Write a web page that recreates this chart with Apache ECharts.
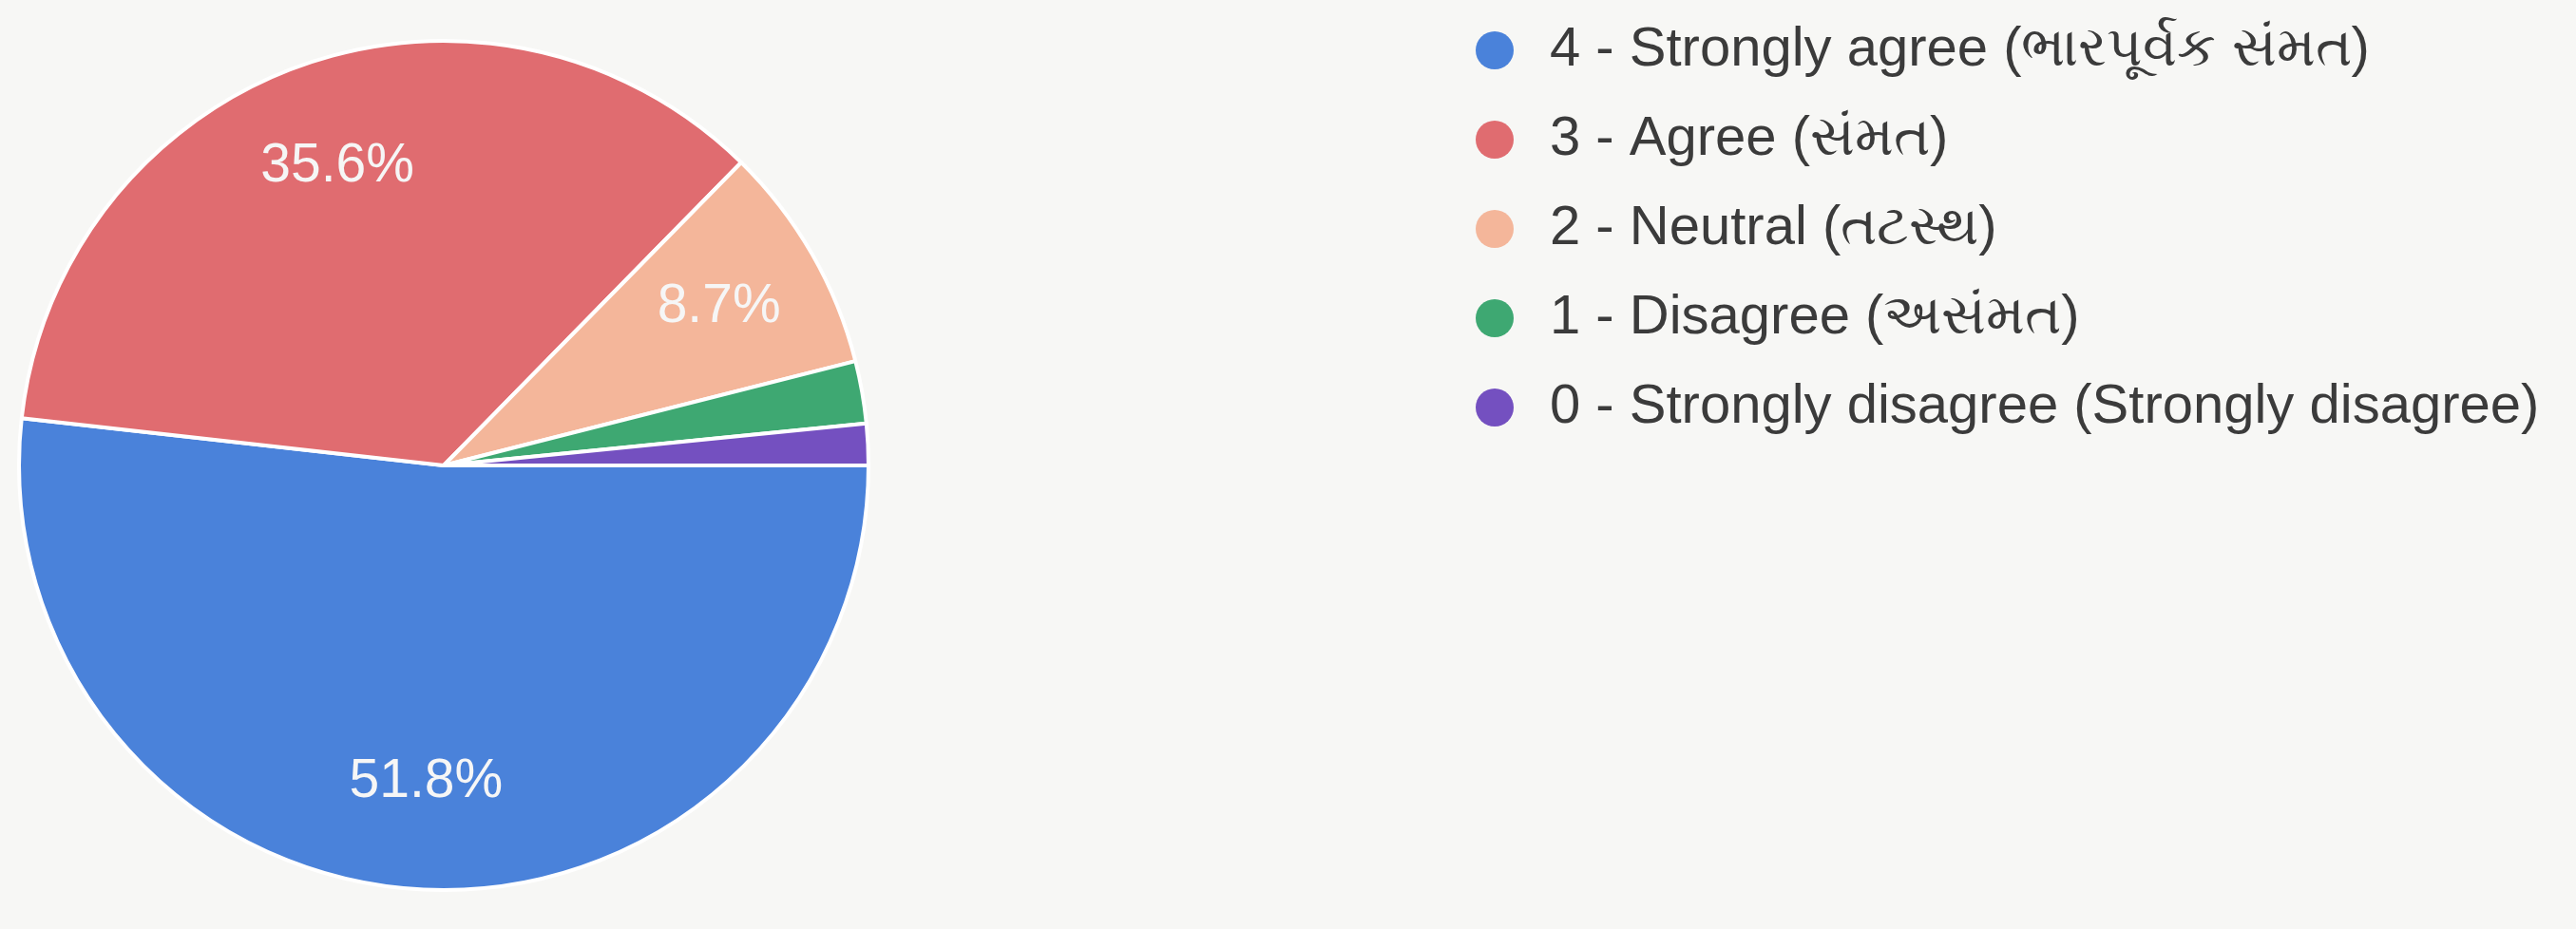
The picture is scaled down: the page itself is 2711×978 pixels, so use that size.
<!DOCTYPE html>
<html>
<head>
<meta charset="utf-8">
<title>Responses</title>
<script src="https://cdn.jsdelivr.net/npm/echarts@6/dist/echarts.min.js"></script>
<style>
  html, body { margin: 0; padding: 0; background: #f7f7f5; }
  #chart { width: 2711px; height: 978px; }
</style>
</head>
<body>
<div id="chart"></div>
<script>
// answer options, as shown in the legend
const categories = [
  '4 - Strongly agree (ભારપૂર્વક સંમત)',
  '3 - Agree (સંમત)',
  '2 - Neutral (તટસ્થ)',
  '1 - Disagree (અસંમત)',
  '0 - Strongly disagree (Strongly disagree)'
];
// number of responses per option (253 total)
const responses = [131, 90, 22, 6, 4];

const sliceColors = ['#4a82da', '#e06c70', '#f4b69a', '#3ea872', '#7450c0'];
const font = 'Arial, "Liberation Sans", sans-serif';

let pieData = categories.map((name, i) => ({
  name: name,
  value: responses[i],
  itemStyle: { color: sliceColors[i] }
}));

let myChart = echarts.init(document.getElementById('chart'));
myChart.setOption({
  backgroundColor: '#f7f7f5',
  animation: false,
  legend: {
    orient: 'vertical',
    left: 1548,
    top: 19,
    icon: 'circle',
    itemWidth: 106,
    itemHeight: 40,
    itemGap: 36,
    itemStyle: { borderWidth: 0 },
    data: categories,
    textStyle: {
      fontFamily: font,
      fontSize: 58,
      color: '#3b3b3b'
    }
  },
  series: [
    {
      type: 'pie',
      center: [467, 490],
      radius: [0, 447],
      startAngle: 0,
      clockwise: true,
      data: pieData,
      label: { show: false },
      labelLine: { show: false },
      itemStyle: { borderColor: '#ffffff', borderWidth: 4 },
      emphasis: { disabled: true }
    },
    {
      // transparent ring only used to put the % labels further out
      type: 'pie',
      center: [467, 490],
      radius: [215, 447],
      startAngle: 0,
      clockwise: true,
      silent: true,
      data: pieData.map(d => ({ name: d.name, value: d.value })),
      itemStyle: { color: 'rgba(0,0,0,0)' },
      labelLine: { show: false },
      label: {
        show: true,
        position: 'inside',
        fontFamily: font,
        fontSize: 57,
        color: '#f6f6f6',
        formatter: p => (p.percent >= 5 ? p.percent.toFixed(1) + '%' : '')
      },
      emphasis: { disabled: true }
    }
  ]
});
</script>
</body>
</html>
